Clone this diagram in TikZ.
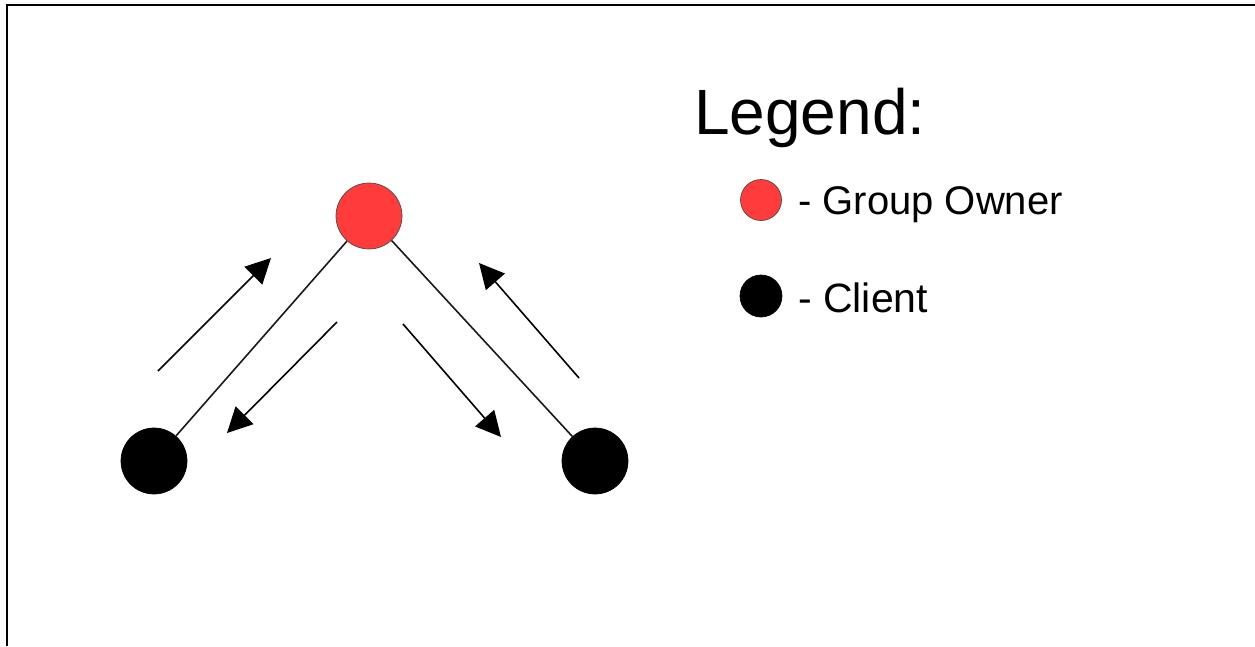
\documentclass[tikz,border=0pt]{standalone}
\usepackage{fontspec}
\setmainfont{Liberation Sans}
\usetikzlibrary{arrows.meta}
\definecolor{ownerred}{HTML}{FF3B3B}
\tikzset{
  owner/.style={circle, fill=ownerred, draw=black!70, line width=0.7pt, minimum size=#1, inner sep=0pt},
  client/.style={circle, fill=black, draw=black, line width=0.7pt, minimum size=#1, inner sep=0pt},
  link/.style={draw=black!90, line width=1.6pt},
  flow/.style={draw=black, line width=1.6pt, -{Triangle[length=25pt,width=25pt]}},
  legendtext/.style={anchor=base west, inner sep=0pt, font=\fontsize{40}{48}\selectfont},
}
\begin{document}
\begin{tikzpicture}[x=1pt, y=-1pt]
\useasboundingbox (0,0) rectangle (1255,646);
% frame edges
\draw[line width=2.2pt] (7,646) -- (7,5) -- (1255,5);

% network
\node[owner=66pt] (go) at (369,216) {};
\node[client=66pt] (cl) at (154,461) {};
\node[client=66pt] (cr) at (595,461) {};
\draw[link] (go) -- (cl);
\draw[link] (go) -- (cr);

% traffic direction
\coordinate (a1s) at (158,371); \coordinate (a1e) at (271,258);
\coordinate (a2s) at (337,322); \coordinate (a2e) at (227,433);
\coordinate (a3s) at (403,324); \coordinate (a3e) at (501,437);
\coordinate (a4s) at (579,378); \coordinate (a4e) at (479,263);
\draw[flow] (a1s) -- (a1e);
\draw[flow] (a2s) -- (a2e);
\draw[flow] (a3s) -- (a3e);
\draw[flow] (a4s) -- (a4e);

% legend
\node[anchor=base west, inner sep=0pt, font=\fontsize{64}{72}\selectfont] (lg) at (694,134) {Legend:};
\node[owner=41pt] (lgo) at (761,200) {};
\node[legendtext] (lgot) at (798,214) {- Group Owner};
\node[client=42pt] (lgc) at (761,296) {};
\node[legendtext, font=\fontsize{41}{48}\selectfont] (lgct) at (798,312) {- Client};
\end{tikzpicture}
\end{document}
